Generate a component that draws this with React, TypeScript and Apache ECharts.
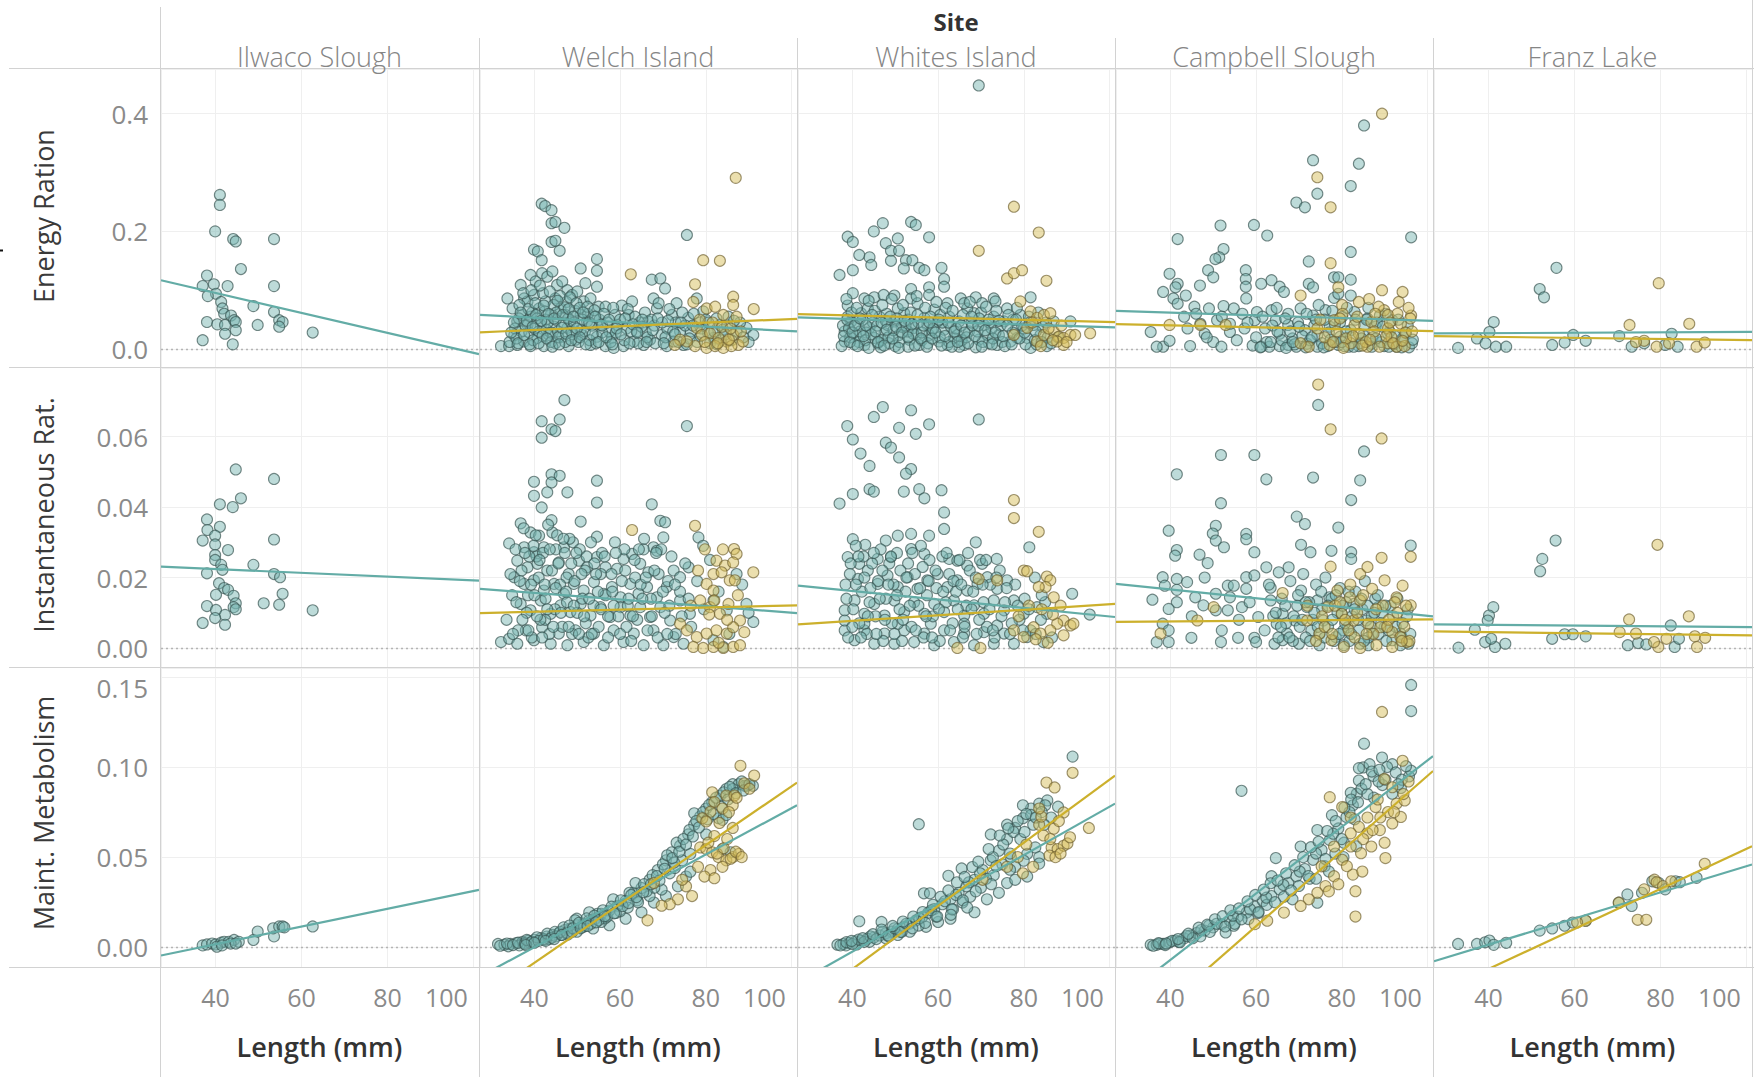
import React, { useEffect, useRef } from "react";
import * as echarts from "echarts";

// ---------- categories & ticks ----------
const SITES = ["Ilwaco Slough", "Welch Island", "Whites Island", "Campbell Slough", "Franz Lake"];
const MEASURES = ["Energy Ration", "Instantaneous Rat.", "Maint. Metabolism"];
const FACET_HEADER = "Site";
const X_TITLE = "Length (mm)";

const X_MIN = 27.3;
const X_MAX = 101.3;
const X_STEP = 20;
const X_TICKS = [40, 60, 80, 100];
const X_TICK_LABELS = ["40", "60", "80", "100"];

const Y_MIN = [-0.0305, -0.0054, -0.011];
const Y_MAX = [0.476, 0.0795, 0.155];
const Y_STEP = [0.2, 0.02, 0.05];
const Y_TICKS = [[0, 0.2, 0.4], [0, 0.02, 0.04, 0.06], [0, 0.05, 0.1, 0.15]];
const Y_TICK_LABELS = [["0.0", "0.2", "0.4"], ["0.00", "0.02", "0.04", "0.06"], ["0.00", "0.05", "0.10", "0.15"]];

// ---------- Energy Ration ----------
const ILWACO_ENERGY_TEAL = [[41.0,0.262],[41.0,0.245],[39.9,0.200],[44.1,0.187],[44.7,0.183],[53.6,0.187],[45.9,0.136],[38.0,0.125],[53.6,0.107],[37.0,0.107],[39.6,0.110],[42.8,0.107],[40.1,0.094],[38.2,0.090],[41.3,0.080],[41.6,0.069],[42.0,0.060],[43.6,0.057],[44.3,0.049],[44.7,0.046],[48.8,0.073],[53.6,0.063],[54.8,0.049],[55.6,0.046],[54.8,0.038],[38.0,0.046],[40.4,0.042],[42.2,0.041],[49.8,0.041],[44.7,0.032],[42.2,0.026],[62.6,0.028],[37.0,0.015],[44.0,0.008]];

const WELCH_ENERGY_TEAL = [[41.7,0.247],[42.5,0.243],[44.0,0.236],[44.0,0.214],[44.9,0.216],[47.0,0.206],[44.0,0.182],[44.9,0.184],[45.9,0.167],[39.9,0.169],[40.8,0.166],[41.7,0.151],[54.6,0.153],[50.8,0.137],[54.6,0.133],[54.6,0.106],[51.9,0.112],[75.6,0.194],
[33.7,0.086],[34.9,0.069],[36.8,0.109],[37.6,0.086],[39.1,0.126],[40.3,0.115],[41.8,0.129],[43.0,0.123],[44.2,0.132],[45.3,0.109],[46.5,0.115],[47.7,0.1],[48.8,0.092],[50.0,0.098],[51.5,0.081],[53.1,0.086],[55.0,0.072],[56.6,0.072],[36.0,0.047],[37.2,0.058],[38.4,0.081],[39.9,0.092],[41.1,0.069],[42.6,0.081],[43.8,0.058],[44.9,0.086],[46.1,0.069],[47.3,0.058],[48.4,0.047],[50.8,0.058],[52.3,0.047],[53.9,0.055],[55.4,0.041],
[32.2,0.005],[34.1,0.005],[36.0,0.007],[37.6,0.013],[39.1,0.005],[40.7,0.019],[42.2,0.005],[43.4,0.024],[44.9,0.010],[46.5,0.021],[48.0,0.005],[49.6,0.016],[51.1,0.024],[53.1,0.007],[54.6,0.021],[56.6,0.005],[58.1,0.019],[59.3,0.041],[60.4,0.074],[62.0,0.058],[62.8,0.081],[63.9,0.03],[65.5,0.007],[66.6,0.047],[67.4,0.118],[67.8,0.086],[68.6,0.069],[69.4,0.12],[69.7,0.024],[70.5,0.103],[70.9,0.005],[72.1,0.058],[73.2,0.078],[74.0,0.030],[74.8,0.007],[75.9,0.053],[77.9,0.086],[79.4,0.064],[81.8,0.019],[83.3,0.041],[85.3,0.055],[87.2,0.03],[89.5,0.036],[91.1,0.024],
[38.4,0.041],[41.5,0.041],[44.6,0.038],[47.7,0.036],[50.8,0.033],[58.5,0.002],[60.8,0.005],[63.2,0.013],[67.0,0.016],[72.5,0.013],[39.1,0.055],[42.6,0.05],[35.3,0.024],
[35.5,0.035],[37.0,0.03],[38.8,0.028],[40.0,0.035],[41.0,0.03],[42.8,0.033],[43.8,0.028],[45.5,0.03],[46.8,0.045],[48.9,0.025],[36.5,0.075],[39.5,0.062],[42.0,0.095],[45.0,0.05],[47.5,0.08],[49.5,0.065],[52.5,0.06],[57.5,0.03],[58.8,0.058],[61.5,0.035],[64.5,0.045],[66.0,0.028],[68.0,0.04],[71.0,0.035],[73.0,0.045],[76.5,0.03],[78.5,0.045],[80.5,0.028],[82.5,0.052],[84.0,0.033]];
const WELCH_ENERGY_TEAL_MORE = [[34.2,0.012],[35.8,0.018],[36.4,0.052],[37.4,0.095],[37.9,0.04],[38.6,0.068],[39.3,0.1],[39.7,0.015],[40.2,0.078],[40.6,0.052],[41.3,0.108],[41.9,0.022],[42.4,0.064],[43.1,0.045],[43.6,0.098],[43.9,0.012],[44.5,0.075],[45.1,0.062],[45.6,0.02],[46.0,0.09],[46.4,0.036],[47.0,0.071],[47.2,0.012],[47.9,0.052],[48.3,0.088],[48.7,0.03],[49.3,0.045],[49.8,0.078],[50.3,0.012],[50.6,0.07],[51.2,0.05],[51.8,0.03],[52.4,0.072],[52.9,0.015],[53.4,0.04],[54.0,0.066],[54.4,0.01],[55.2,0.05],[55.8,0.028],[56.2,0.06],[57.0,0.045],[57.8,0.012],[58.4,0.07],[59.0,0.028],[60.0,0.05],[61.0,0.015],[61.8,0.068],[62.6,0.03],[63.5,0.055],[64.2,0.01],[65.0,0.038],[65.8,0.062],[66.4,0.02],[67.3,0.05],[68.2,0.01],[69.0,0.078],[69.8,0.045],[70.6,0.02],[71.5,0.068],[72.4,0.03],[73.6,0.012],[74.5,0.062],[75.2,0.04],[76.2,0.018],[77.2,0.06],[78.0,0.012],[79.0,0.035],[80.0,0.05],[81.0,0.01],[82.0,0.03],[83.5,0.015],[85.0,0.04],[86.0,0.015],[88.0,0.045],[90.0,0.012],
[34.6,0.028],[35.2,0.045],[36.2,0.01],[36.8,0.062],[37.6,0.024],[38.2,0.048],[38.9,0.008],[39.6,0.038],[40.4,0.058],[41.0,0.01],[41.6,0.048],[42.2,0.074],[42.9,0.018],[43.3,0.06],[44.2,0.004],[44.6,0.052],[45.4,0.082],[45.8,0.008],[46.6,0.058],[47.4,0.026],[48.0,0.068],[48.6,0.015],[49.1,0.055],[49.9,0.035],[50.6,0.02],[51.4,0.062],[52.0,0.008],[52.8,0.045],[53.6,0.025],[54.2,0.055],[55.0,0.012],[55.8,0.04],[56.8,0.02],[57.4,0.05],[58.2,0.008],[59.2,0.035],[60.2,0.025],[61.2,0.052],[62.2,0.01],[63.0,0.042],[64.0,0.028],[65.2,0.05],[66.2,0.012],[67.6,0.032],[68.8,0.052],[70.2,0.01],[71.2,0.048],[72.8,0.025],[74.2,0.045],[75.6,0.008],[77.0,0.04],[78.8,0.022],[80.6,0.045],[82.6,0.008],[84.6,0.025],[86.6,0.048],[88.8,0.02]];
const WELCH_ENERGY_GOLD = [[87.0,0.291],[62.5,0.127],[79.4,0.151],[83.3,0.150],[77.5,0.110],[86.4,0.089],[91.2,0.068],[77.1,0.08],[80.2,0.069],[82.2,0.072],[84.1,0.058],[86.4,0.075],[87.2,0.055],[77.9,0.036],[79.1,0.024],[81.0,0.027],[83.0,0.019],[84.9,0.013],[86.4,0.024],[87.6,0.007],[77.5,0.005],[80.2,0.002],[82.2,0.005],[84.1,0.002],[86.0,0.005],[75.6,0.013],[74.0,0.016],[88.7,0.013],[72.8,0.007],
[78.6,0.05],[81.6,0.045],[83.8,0.038],[85.8,0.035],[88.2,0.03],[79.8,0.012],[82.8,0.01],[85.4,0.016]];

const WHITES_ENERGY_TEAL = [[69.5,0.448],[38.9,0.191],[40.1,0.182],[45.0,0.2],[47.1,0.214],[53.7,0.216],[54.8,0.211],[57.9,0.19],[47.8,0.18],[50.6,0.188],[49.0,0.167],[50.9,0.167],[41.6,0.16],[44.0,0.156],[44.4,0.143],[49.0,0.15],[52.5,0.151],[54.0,0.151],[52.0,0.137],[55.6,0.138],[56.8,0.134],[37.0,0.126],[40.1,0.134],[60.8,0.138],[61.4,0.119],[61.4,0.106],
[40.1,0.095],[42.8,0.086],[45.1,0.088],[47.3,0.092],[49.8,0.091],[53.7,0.102],[57.9,0.105],[53.7,0.086],[57.9,0.092],[38.9,0.074],[62.2,0.078],[65.3,0.086],[68.8,0.088],[73.0,0.086],[73.4,0.081],[81.6,0.088],
[38.2,0.03],[38.2,0.013],[39.7,0.047],[40.9,0.024],[42.0,0.061],[42.8,0.007],[44.0,0.036],[45.1,0.019],[46.3,0.055],[47.5,0.027],[48.6,0.01],[49.8,0.047],[50.9,0.024],[52.1,0.061],[53.3,0.016],[54.4,0.036],[55.6,0.007],[56.8,0.053],[57.9,0.024],[59.1,0.067],[60.2,0.013],[61.4,0.033],[62.6,0.055],[63.7,0.019],[64.9,0.047],[66.1,0.007],[67.2,0.030],[68.4,0.061],[69.5,0.016],[70.7,0.041],[71.9,0.01],[73.0,0.055],[74.2,0.024],[75.4,0.047],[76.9,0.013],[78.1,0.033],[79.2,0.058],[80.8,0.019],[82.3,0.041],[83.9,0.024],
[38.9,0.055],[41.3,0.041],[43.6,0.069],[45.9,0.01],[48.2,0.041],[50.6,0.069],[52.9,0.03],[55.2,0.078],[57.5,0.041],[59.9,0.047],[62.2,0.007],[64.5,0.024],[66.8,0.069],[69.2,0.03],[71.5,0.024],[73.8,0.007],[76.1,0.069],[78.5,0.019],[81.6,0.002],[85.4,0.005],[87.0,0.047],[90.9,0.047],[66.1,0.078],[70.3,0.078],
[39.5,0.02],[41.5,0.012],[43.2,0.028],[44.8,0.045],[46.8,0.015],[48.0,0.06],[50.0,0.005],[51.5,0.038],[53.0,0.05],[55.0,0.025],[56.2,0.015],[58.5,0.032],[60.5,0.058],[63.0,0.038],[65.5,0.015],[67.8,0.045],[70.0,0.062],[72.5,0.035],[75.0,0.012],[77.5,0.05],[80.0,0.035],[83.0,0.008]];
const WHITES_ENERGY_TEAL_MORE = [[37.5,0.005],[37.8,0.04],[38.6,0.085],[39.2,0.035],[39.8,0.062],[40.4,0.008],[41.0,0.07],[41.8,0.03],[42.4,0.05],[43.0,0.015],[43.8,0.082],[44.4,0.025],[45.2,0.065],[45.8,0.04],[46.6,0.003],[47.0,0.075],[47.8,0.048],[48.4,0.02],[49.2,0.085],[49.6,0.032],[50.4,0.052],[51.0,0.012],[51.8,0.075],[52.4,0.04],[53.0,0.004],[53.6,0.062],[54.2,0.026],[55.0,0.09],[55.4,0.045],[56.2,0.028],[57.0,0.07],[57.6,0.01],[58.2,0.055],[58.8,0.035],[59.6,0.08],[60.4,0.02],[61.0,0.045],[61.8,0.07],[62.6,0.012],[63.4,0.065],[64.2,0.035],[65.0,0.004],[65.8,0.058],[66.6,0.02],[67.4,0.08],[68.0,0.04],[68.8,0.003],[69.6,0.052],[70.4,0.012],[71.2,0.072],[72.0,0.045],[72.8,0.018],[73.6,0.065],[74.6,0.04],[75.6,0.005],[76.4,0.058],[77.4,0.028],[78.4,0.07],[79.6,0.04],[80.4,0.008],[81.2,0.055],[82.6,0.015],[83.4,0.062],[84.4,0.038],[85.6,0.02],[86.4,0.01],[88.0,0.02],
[38.0,0.022],[38.8,0.05],[39.4,0.012],[40.0,0.028],[40.6,0.04],[41.2,0.005],[41.8,0.052],[42.6,0.022],[43.2,0.04],[43.8,0.002],[44.6,0.058],[45.4,0.03],[46.0,0.012],[46.8,0.045],[47.4,0.006],[48.0,0.033],[48.8,0.055],[49.4,0.018],[50.2,0.038],[50.8,0.002],[51.6,0.028],[52.2,0.048],[53.0,0.02],[53.8,0.042],[54.6,0.006],[55.2,0.058],[56.0,0.018],[56.6,0.04],[57.4,0.004],[58.0,0.045],[58.6,0.018],[59.4,0.028],[60.2,0.05],[60.8,0.006],[61.6,0.022],[62.4,0.045],[63.2,0.004],[63.8,0.03],[64.6,0.012],[65.4,0.04],[66.2,0.028],[67.0,0.01],[67.8,0.055],[68.6,0.022],[69.4,0.04],[70.2,0.004],[71.0,0.032],[71.8,0.05],[72.6,0.008],[73.4,0.028],[74.2,0.048],[75.2,0.022],[76.2,0.04],[77.2,0.008],[78.2,0.05],[79.0,0.018],[80.2,0.028],[81.4,0.045],[82.8,0.03],[84.2,0.012],[85.2,0.045]];
const WHITES_ENERGY_GOLD = [[77.7,0.242],[83.5,0.198],[69.5,0.167],[76.1,0.12],[77.7,0.129],[79.6,0.134],[85.3,0.116],[79.2,0.081],[81.6,0.064],[83.1,0.053],[84.7,0.058],[86.2,0.061],[87.0,0.03],[88.2,0.021],[89.3,0.019],[90.9,0.024],[92.0,0.024],[95.5,0.027],[89.3,0.007],[87.8,0.013],[77.7,0.024],[80.8,0.036],[83.1,0.013],[84.7,0.024],
[82.0,0.045],[85.8,0.035],[88.8,0.04],[84.0,0.005],[90.0,0.012],[86.8,0.015]];

const CAMPBELL_ENERGY_TEAL = [[73.3,0.321],[85.2,0.380],[84.0,0.315],[74.3,0.264],[82.1,0.277],[69.4,0.249],[71.4,0.241],[51.7,0.21],[59.5,0.211],[62.6,0.193],[41.7,0.187],[96.2,0.19],[82.1,0.165],[52.4,0.17],[51.4,0.156],[50.5,0.153],[48.8,0.134],[50.0,0.122],[39.8,0.128],[41.7,0.111],[41.2,0.105],[38.3,0.097],[40.7,0.086],[41.7,0.077],[43.6,0.091],[46.9,0.108],[57.6,0.134],[57.6,0.119],[57.6,0.106],[57.7,0.086],[61.2,0.111],[63.6,0.117],[65.5,0.106],[66.5,0.097],[72.3,0.149],[72.3,0.111],[73.3,0.105],[78.2,0.122],[79.2,0.122],[82.1,0.118],
[35.4,0.029],[38.3,0.004],[36.8,0.004],[39.8,0.014],[44.6,0.005],[48.0,0.026],[50.0,0.012],[51.9,0.004],[53.9,0.029],
[45.6,0.072],[49.0,0.069],[52.4,0.073],[54.8,0.069],[56.8,0.06],[60.2,0.063],[63.6,0.066],
[43.2,0.055],[47.0,0.043],[50.9,0.049],[53.9,0.043],[57.3,0.035],[59.7,0.049],[62.1,0.035],[64.6,0.049],[67.5,0.041],
[59.2,0.006],[61.2,0.004],[63.1,0.004],[65.5,0.005],[67.5,0.007],[69.4,0.004],[71.9,0.009],[74.3,0.004],[76.7,0.005],[79.2,0.007],[81.6,0.004],[84.0,0.005],[86.9,0.009],[89.9,0.005],[92.8,0.004],[95.7,0.003],
[65.5,0.026],[68.5,0.018],[71.4,0.032],[74.3,0.024],[77.2,0.038],[79.6,0.021],[82.1,0.032],[85.0,0.024],[87.9,0.038],[90.8,0.026],[93.8,0.015],
[67.5,0.06],[70.4,0.069],[73.3,0.057],[76.2,0.066],[80.1,0.055],[83.0,0.063],[86.0,0.052],[88.9,0.057],[91.8,0.049],
[78.2,0.087],[79.2,0.094],[82.1,0.091]];
const CAMPBELL_ENERGY_TEAL_MORE = [[60.0,0.02],[61.5,0.055],[62.5,0.012],[63.8,0.04],[64.8,0.07],[66.0,0.015],[66.8,0.052],[68.0,0.03],[69.0,0.008],[69.8,0.045],[70.8,0.022],[71.8,0.06],[72.6,0.015],[73.6,0.04],[74.6,0.075],[75.4,0.01],[76.0,0.05],[77.0,0.028],[77.8,0.065],[78.6,0.012],[79.6,0.045],[80.6,0.005],[81.2,0.07],[82.2,0.02],[83.2,0.05],[84.2,0.01],[85.2,0.04],[86.2,0.07],[87.2,0.02],[88.2,0.045],[89.2,0.012],[90.2,0.06],[91.2,0.03],[92.2,0.008],[93.2,0.05],[94.4,0.02],[95.4,0.04],[96.4,0.01],[44.0,0.035],[46.0,0.06],[48.5,0.02],[52.0,0.055],[55.5,0.015],[58.0,0.045],
[61.0,0.003],[63.4,0.012],[65.0,0.03],[67.0,0.002],[68.6,0.012],[70.0,0.038],[71.6,0.003],[73.0,0.02],[74.0,0.05],[75.8,0.003],[77.4,0.016],[78.4,0.042],[80.0,0.012],[81.0,0.03],[82.8,0.004],[84.6,0.018],[85.8,0.05],[87.0,0.004],[88.0,0.018],[89.6,0.038],[91.0,0.004],[92.4,0.022],[94.0,0.003],[95.0,0.028],[96.6,0.016]];
const CAMPBELL_ENERGY_GOLD = [[89.4,0.40],[74.3,0.292],[77.4,0.241],[77.4,0.146],[70.4,0.091],[79.2,0.105],[89.4,0.1],[94.2,0.097],[93.3,0.08],[96.2,0.057],[96.0,0.052],[84.0,0.08],[80.1,0.075],[89.9,0.066],[90.8,0.058],[78.2,0.049],[83.0,0.041],[86.9,0.046],[90.8,0.035],[93.8,0.043],[74.3,0.035],[84.0,0.026],[77.2,0.007],[82.1,0.01],[86.0,0.004],[90.8,0.01],[92.8,0.004],[94.7,0.005],[72.3,0.004],[70.4,0.01],[39.8,0.041],[47.0,0.041],[52.9,0.041],
[76.0,0.02],[78.8,0.03],[81.0,0.018],[83.6,0.055],[85.6,0.012],[87.6,0.03],[88.6,0.072],[91.6,0.02],[93.0,0.06],[94.8,0.028],[95.6,0.07],[80.2,0.06],[86.4,0.085],[75.0,0.05],
[78.0,0.012],[80.4,0.002],[82.6,0.022],[84.8,0.006],[86.6,0.016],[88.8,0.004],[90.4,0.022],[92.0,0.01],[94.2,0.014],[96.4,0.03],[79.6,0.052],[87.8,0.06],[91.2,0.045]];

const FRANZ_ENERGY_TEAL = [[55.8,0.138],[51.9,0.102],[52.9,0.088],[41.2,0.046],[40.2,0.029],[37.3,0.018],[39.3,0.01],[41.7,0.004],[44.1,0.004],[32.9,0.002],[54.8,0.007],[57.7,0.011],[59.7,0.024],[62.6,0.014],[70.4,0.022],[82.6,0.026],[73.3,0.004],[76.2,0.01],[84.0,0.004],[81.1,0.007]];
const FRANZ_ENERGY_GOLD = [[79.6,0.112],[72.8,0.041],[86.7,0.043],[76.2,0.014],[79.1,0.004],[88.4,0.004],[90.3,0.011],[82.0,0.01],[74.3,0.012]];

// ---------- Instantaneous Rat. ----------
const ILWACO_INST_TEAL = [[44.7,0.0507],[53.6,0.048],[41.0,0.0408],[44.0,0.040],[45.9,0.0425],[38.0,0.0365],[38.1,0.0335],[41.0,0.0344],[37.0,0.0305],[39.9,0.0319],[39.9,0.0294],[42.9,0.0278],[39.9,0.0264],[39.9,0.025],[53.6,0.0308],[41.3,0.0236],[41.6,0.0222],[38.0,0.0212],[48.8,0.0236],[53.6,0.021],[55.0,0.0201],[40.8,0.0184],[42.0,0.017],[42.9,0.0165],[40.1,0.0151],[44.2,0.0148],[44.7,0.0127],[44.2,0.0116],[38.0,0.0119],[40.1,0.0108],[42.2,0.0094],[44.7,0.011],[51.2,0.0127],[55.6,0.0154],[54.8,0.0123],[62.6,0.0107],[39.9,0.0085],[37.0,0.0071],[42.2,0.0066]];

const WELCH_INST_TEAL = [[47.0,0.0704],[41.7,0.0644],[45.9,0.0649],[44.0,0.0621],[44.9,0.0616],[41.7,0.0597],[75.6,0.063],
[44.0,0.0493],[45.9,0.0489],[44.0,0.047],[39.9,0.0472],[43.0,0.0442],[47.7,0.0442],[54.6,0.0475],[39.9,0.0432],[41.7,0.0399],[54.6,0.0413],[67.4,0.0408],
[36.8,0.0354],[44.0,0.0363],[50.8,0.0359],[54.6,0.0316],[69.4,0.0361],[70.5,0.0357],[34.1,0.0297],[70.1,0.0314],[67.8,0.0286],[68.6,0.0276],[78.3,0.0314],[79.4,0.029],
[39.1,0.0328],[41.1,0.0319],[37.6,0.0286],[39.9,0.0272],[42.2,0.0286],[44.2,0.0328],[46.9,0.0286],[36.0,0.0248],[38.4,0.0229],[40.7,0.0239],[43.0,0.022],[45.7,0.0243],[48.0,0.021],[50.4,0.0248],[52.3,0.0229],[54.6,0.0258],[56.6,0.0229],[59.3,0.0225],[60.8,0.0253],[62.8,0.0267],[64.7,0.0239],[66.6,0.0215],
[35.3,0.0201],[37.6,0.0182],[39.9,0.0192],[42.2,0.0163],[44.6,0.0182],[46.9,0.0154],[49.2,0.0182],[51.5,0.0163],[53.9,0.0187],[56.2,0.0154],[58.1,0.0173],[60.1,0.0144],[62.4,0.0182],[64.3,0.0154],[66.3,0.0173],[68.6,0.0144],[70.9,0.0173],[72.5,0.022],[74.0,0.0201],[76.0,0.0229],
[36.8,0.0125],[39.1,0.0107],[41.5,0.0135],[43.8,0.0097],[46.1,0.0121],[48.4,0.0102],[50.8,0.0125],[53.1,0.0092],[55.4,0.0116],[57.7,0.0088],[60.1,0.0116],[62.4,0.0092],[64.7,0.0116],[67.0,0.0088],[69.4,0.0116],[71.7,0.0078],[74.0,0.0135],[76.3,0.0097],[81.8,0.0135],[84.9,0.0107],[87.2,0.021],[89.5,0.0125],[91.1,0.0074],
[32.2,0.0017],[34.1,0.0026],[36.0,0.0012],[38.0,0.005],[39.9,0.0022],[41.8,0.0059],[43.8,0.0012],[45.7,0.0041],[47.7,0.0008],[49.6,0.005],[51.5,0.0017],[53.9,0.0041],[56.2,0.0008],[58.5,0.005],[60.8,0.0017],[63.2,0.0041],[65.5,0.0008],[67.8,0.005],[70.1,0.0008],[72.5,0.0031],[74.8,0.0012],[81.8,0.0022],[84.1,0.0003],
[38.5,0.015],[40.5,0.026],[42.5,0.008],[45.0,0.028],[47.5,0.02],[49.0,0.03],[52.0,0.007],[55.5,0.021],[58.5,0.012],[61.5,0.006],[63.5,0.02],[65.5,0.028],[69.0,0.021],[71.5,0.012]];
const WELCH_INST_TEAL_MORE = [[33.5,0.008],[34.8,0.015],[35.6,0.028],[36.2,0.005],[37.0,0.022],[37.5,0.034],[38.2,0.01],[38.8,0.026],[39.4,0.003],[40.0,0.015],[40.3,0.032],[41.0,0.02],[41.4,0.008],[42.0,0.027],[42.6,0.014],[43.2,0.035],[43.5,0.004],[44.1,0.022],[44.8,0.011],[45.3,0.032],[46.0,0.018],[46.5,0.006],[47.1,0.027],[47.6,0.013],[48.2,0.031],[48.8,0.004],[49.4,0.019],[50.0,0.01],[50.6,0.028],[51.2,0.014],[51.8,0.022],[52.6,0.003],[53.2,0.03],[53.8,0.012],[54.4,0.021],[55.0,0.006],[55.8,0.027],[56.6,0.015],[57.2,0.003],[58.0,0.021],[58.8,0.03],[59.6,0.009],[60.4,0.019],[61.0,0.028],[61.8,0.012],[62.6,0.002],[63.4,0.025],[64.0,0.008],[64.8,0.018],[65.6,0.031],[66.4,0.005],[67.2,0.014],[68.0,0.022],[68.8,0.003],[69.6,0.028],[70.4,0.01],[71.2,0.019],[72.0,0.026],[73.0,0.004],[74.0,0.016],[75.2,0.024],[76.6,0.006],[78.0,0.019],[79.6,0.011],[81.0,0.025],[83.0,0.016],[85.5,0.004],[88.5,0.018],[90.0,0.01],
[34.4,0.021],[35.0,0.004],[35.8,0.013],[36.6,0.019],[37.2,0.008],[37.8,0.027],[38.6,0.005],[39.2,0.018],[39.8,0.029],[40.6,0.009],[41.2,0.025],[41.8,0.003],[42.4,0.018],[43.0,0.011],[43.6,0.028],[44.4,0.006],[45.0,0.017],[45.6,0.024],[46.2,0.01],[46.8,0.031],[47.4,0.016],[48.0,0.006],[48.6,0.024],[49.2,0.012],[49.8,0.027],[50.4,0.004],[51.0,0.021],[51.6,0.009],[52.2,0.026],[52.8,0.014],[53.4,0.004],[54.0,0.024],[54.8,0.016],[55.6,0.011],[56.4,0.026],[57.2,0.009],[58.2,0.016],[59.0,0.027],[60.0,0.004],[61.2,0.022],[62.0,0.014],[63.0,0.009],[64.4,0.028],[65.2,0.014],[66.0,0.02],[67.4,0.009],[68.4,0.027],[70.0,0.016],[71.0,0.004],[72.8,0.018],[74.4,0.009],[76.0,0.014]];
const WELCH_INST_GOLD = [[62.8,0.0335],[77.5,0.0347],[86.6,0.0281],[87.2,0.0267],[91.1,0.0215],[82.5,0.0248],[84.5,0.0234],[86.4,0.0243],[81.8,0.021],[83.7,0.0215],[85.6,0.0192],[80.2,0.0182],[81.8,0.0163],[86.8,0.0192],[78.7,0.0135],[81.0,0.0116],[83.3,0.0097],[85.3,0.0125],[88.0,0.0078],[74.0,0.0069],[75.6,0.005],[77.9,0.0031],[80.2,0.0041],[82.5,0.005],[84.9,0.0041],[86.4,0.0059],[77.1,0.0003],[79.4,0],[81.8,0.0003],[84.1,0],[86.4,0.0003],[88.0,0.0008],
[76.5,0.012],[78.2,0.022],[79.8,0.028],[82.0,0.0135],[84.0,0.028],[85.0,0.008],[87.5,0.015],[89.0,0.0045],[83.0,0.0015],[80.8,0.0095]];

const WHITES_INST_TEAL = [[47.1,0.0684],[53.7,0.0675],[45.0,0.0656],[38.8,0.063],[50.9,0.0625],[57.9,0.0635],[69.5,0.0649],[54.8,0.0608],[40.1,0.0592],[47.8,0.0583],[49.0,0.0569],[41.9,0.0552],[50.9,0.0541],[44.0,0.0517],[53.7,0.0508],[52.5,0.0495],[40.1,0.0437],[44.0,0.0451],[45.0,0.0444],[37.0,0.041],[52.0,0.0444],[55.6,0.0451],[56.8,0.0425],[60.8,0.0448],[61.4,0.0385],[61.4,0.0338],[81.3,0.0286],[68.8,0.03],[91.3,0.0154],[95.4,0.0095],
[40.1,0.0309],[43.0,0.0293],[47.8,0.0305],[50.6,0.0319],[53.7,0.0324],[57.9,0.0319],[38.9,0.0258],[41.6,0.0239],[45.9,0.0253],[49.0,0.0258],[53.7,0.0281],[56.8,0.0267],[62.6,0.0253],[64.5,0.0248],[66.8,0.0234],[70.3,0.0239],[73.7,0.0253],
[41.3,0.0196],[43.6,0.022],[45.9,0.0182],[48.2,0.0206],[50.6,0.0173],[52.9,0.0201],[55.2,0.0168],[57.5,0.0192],[59.9,0.021],[62.2,0.0173],[64.5,0.0192],[66.8,0.0163],[69.2,0.0182],[71.5,0.0201],[73.8,0.0168],[76.1,0.0192],
[38.2,0.0107],[40.5,0.0135],[42.8,0.0097],[45.1,0.0125],[47.5,0.0092],[49.8,0.0135],[52.1,0.0102],[54.4,0.013],[56.8,0.0097],[59.1,0.0125],[61.4,0.0102],[63.7,0.0135],[66.1,0.0092],[68.4,0.0121],[70.7,0.0097],[73.0,0.0135],[75.4,0.0107],[77.7,0.0135],[80.0,0.0097],[83.1,0.0116],[85.4,0.0097],
[38.2,0.005],[40.5,0.0022],[42.8,0.005],[45.1,0.0012],[47.5,0.0041],[49.8,0.0012],[52.1,0.005],[54.4,0.0017],[56.8,0.0041],[59.1,0.0008],[61.4,0.005],[63.7,0.0017],[66.1,0.0041],[68.4,0.0008],[70.7,0.0045],[73.0,0.0012],[75.4,0.0041],[77.7,0.0012],[80.8,0.0031],[84.6,0.0017],[38.2,0.0078],[42.8,0.0069],[50.6,0.0069],[58.3,0.0069],[66.1,0.0069],[73.8,0.0064]];
const WHITES_INST_TEAL_MORE = [[38.4,0.018],[39.0,0.003],[39.6,0.024],[40.2,0.011],[40.8,0.029],[41.6,0.007],[42.2,0.016],[42.6,0.026],[43.4,0.004],[44.0,0.013],[44.6,0.024],[45.4,0.009],[46.0,0.019],[46.6,0.028],[47.2,0.002],[47.8,0.014],[48.6,0.024],[49.2,0.007],[49.6,0.018],[50.4,0.027],[51.0,0.011],[51.6,0.002],[52.4,0.016],[53.0,0.024],[53.8,0.006],[54.6,0.021],[55.4,0.012],[56.0,0.029],[56.6,0.003],[57.4,0.015],[58.0,0.025],[58.8,0.009],[59.6,0.017],[60.4,0.002],[61.0,0.026],[61.8,0.013],[62.6,0.021],[63.4,0.007],[64.2,0.016],[65.0,0.025],[65.8,0.003],[66.6,0.012],[67.4,0.022],[68.2,0.016],[69.0,0.004],[69.8,0.025],[70.6,0.013],[71.4,0.006],[72.2,0.018],[73.2,0.003],[74.4,0.022],[75.6,0.013],[76.8,0.004],[78.0,0.018],[79.0,0.008],[80.2,0.014],[81.6,0.005],[82.6,0.02],[84.0,0.008],[85.0,0.013],[86.6,0.003],
[38.6,0.014],[39.4,0.021],[40.0,0.006],[40.8,0.018],[41.4,0.026],[42.0,0.003],[42.8,0.02],[43.6,0.009],[44.2,0.017],[45.0,0.027],[45.6,0.004],[46.4,0.014],[47.0,0.022],[47.6,0.008],[48.4,0.018],[49.0,0.026],[49.8,0.004],[50.4,0.015],[51.2,0.022],[51.8,0.008],[52.6,0.02],[53.4,0.012],[54.0,0.027],[54.8,0.005],[55.8,0.017],[56.4,0.023],[57.2,0.009],[57.8,0.019],[58.6,0.003],[59.4,0.022],[60.2,0.011],[61.2,0.016],[62.0,0.027],[62.8,0.005],[63.6,0.019],[64.6,0.011],[65.4,0.018],[66.2,0.006],[67.0,0.027],[67.8,0.011],[68.8,0.02],[69.6,0.008],[70.4,0.018],[71.2,0.025],[72.0,0.011],[72.8,0.005],[73.6,0.02],[74.8,0.009],[76.0,0.017],[77.2,0.007],[78.6,0.012],[79.8,0.005],[81.2,0.011],[82.8,0.004],[84.2,0.015]];
const WHITES_INST_GOLD = [[77.7,0.042],[77.7,0.0369],[83.5,0.033],[80.0,0.022],[80.8,0.0218],[85.4,0.0203],[86.2,0.0192],[85.1,0.0173],[83.5,0.0173],[69.5,0.0196],[73.8,0.0192],[87.0,0.0144],[89.3,0.0078],[90.9,0.0064],[91.6,0.0069],[87.8,0.0069],[86.2,0.005],[89.3,0.0036],[80.0,0.0031],[82.3,0.0059],[83.9,0.0041],[77.7,0.005],[64.5,0],[69.9,0],
[78.8,0.009],[81.2,0.012],[84.2,0.011],[86.8,0.0095],[88.6,0.012],[82.8,0.0025],[85.6,0.0015]];

const CAMPBELL_INST_TEAL = [[74.5,0.069],[51.8,0.0548],[59.6,0.0548],[41.5,0.0493],[62.4,0.0479],[73.3,0.0484],[84.3,0.0476],[85.2,0.0558],[82.2,0.042],[51.8,0.0411],[69.5,0.0373],[71.4,0.0352],[39.6,0.0333],[50.6,0.0347],[49.9,0.0325],[50.6,0.0305],[52.5,0.0286],[57.7,0.0324],[57.7,0.0309],[59.6,0.0272],[79.2,0.0342],[41.5,0.0278],[41.1,0.0262],[46.8,0.0265],[48.7,0.0241],[70.5,0.0293],[72.7,0.0272],[77.6,0.0276],[82.2,0.0272],[82.2,0.0253],[96.1,0.0291],
[62.4,0.0229],[65.3,0.0215],[67.6,0.0229],[57.7,0.0201],[59.6,0.0206],[63.4,0.0171],
[38.2,0.0201],[41.5,0.0196],[43.9,0.0187],[38.7,0.0177],[41.5,0.0165],[35.8,0.0137],[41.5,0.013],[39.6,0.0111],[45.8,0.0144],[47.7,0.0121],[50.6,0.0154],[53.4,0.0177],[54.8,0.0177],[57.7,0.0168],[53.9,0.0144],[56.7,0.0116],[53.4,0.0107],[50.6,0.0107],
[38.2,0.0069],[39.6,0.005],[36.8,0.0017],[39.6,0.0017],[44.9,0.0029],[51.8,0.0017],[55.8,0.0029],[59.6,0.0029],[60.0,0.0017],
[60.5,0.0088],[63.4,0.0135],[64.8,0.0069],[66.2,0.0097],[67.2,0.0041],[69.1,0.0078],[70.5,0.0163],[71.9,0.0116],[72.9,0.005],[74.3,0.0135],[75.7,0.0078],[77.1,0.0144],[78.6,0.0031],[80.0,0.0097],[81.4,0.0059],[82.8,0.0125],[84.3,0.0012],[85.7,0.0078],[87.1,0.0041],[88.5,0.0116],[90.0,0.0059],[91.8,0.0022],[93.7,0.0041],[95.6,0.0012],[64.3,0.0012],[66.2,0.0022],[70.0,0.0012],[74.8,0.0008],[80.5,0.0008],[86.2,0.0008],[93.7,0.0008]];
const CAMPBELL_INST_TEAL_MORE = [[62.0,0.005],[63.0,0.018],[64.0,0.009],[65.2,0.003],[66.0,0.014],[67.0,0.007],[68.0,0.019],[68.6,0.002],[69.6,0.012],[70.2,0.006],[71.0,0.021],[71.6,0.003],[72.4,0.013],[73.2,0.008],[74.0,0.018],[74.8,0.004],[75.4,0.011],[76.2,0.02],[76.8,0.006],[77.6,0.014],[78.2,0.002],[79.0,0.01],[79.6,0.017],[80.4,0.005],[81.0,0.013],[81.8,0.002],[82.4,0.009],[83.2,0.016],[84.0,0.005],[84.8,0.011],[85.4,0.019],[86.2,0.003],[87.0,0.009],[87.8,0.014],[88.6,0.004],[89.4,0.01],[90.4,0.002],[91.4,0.012],[92.6,0.006],[94.0,0.003],[95.2,0.009],[96.0,0.004],[45.0,0.009],[48.0,0.02],[52.0,0.005],[56.0,0.008],[58.5,0.013],
[64.6,0.01],[65.8,0.006],[66.8,0.012],[67.8,0.003],[68.8,0.009],[69.8,0.015],[70.8,0.008],[71.6,0.013],[72.6,0.002],[73.6,0.01],[74.4,0.006],[75.2,0.016],[76.0,0.003],[76.8,0.012],[77.8,0.008],[78.6,0.015],[79.4,0.004],[80.2,0.012],[80.8,0.007],[81.6,0.016],[82.2,0.004],[83.0,0.011],[83.8,0.008],[84.6,0.014],[85.2,0.002],[86.0,0.012],[86.8,0.006],[87.6,0.01],[88.4,0.015],[89.2,0.007],[90.2,0.012],[91.0,0.005],[92.0,0.009],[93.0,0.014],[94.2,0.007],[95.4,0.011]];
const CAMPBELL_INST_GOLD = [[74.5,0.0748],[77.4,0.0621],[89.3,0.0595],[89.3,0.0256],[96.1,0.0259],[77.4,0.0231],[84.3,0.021],[87.1,0.0168],[90.0,0.0192],[94.2,0.0177],[92.8,0.0144],[96.1,0.0121],[66.2,0.0156],[79.0,0.0163],[81.9,0.0144],[84.3,0.0135],[76.7,0.0116],[80.0,0.0097],[82.8,0.0078],[86.2,0.0069],[89.0,0.0059],[91.8,0.0045],[93.7,0.0031],[95.2,0.0017],[71.9,0.0078],[74.8,0.0041],[77.6,0.0022],[80.5,0.0003],[84.3,0],[88.1,0.0008],[91.8,0.0003],[50.1,0.0116],[37.7,0.0041],[46.3,0.0078],
[72.0,0.012],[74.0,0.002],[76.0,0.006],[78.4,0.012],[80.8,0.008],[83.0,0.003],[85.0,0.015],[87.4,0.004],[89.6,0.012],[91.0,0.008],[93.0,0.01],[94.6,0.006],[95.8,0.002],[82.0,0.018],[86.0,0.023],
[75.4,0.009],[77.8,0.004],[79.6,0.013],[81.6,0.005],[83.6,0.01],[85.8,0.004],[88.0,0.011],[90.6,0.006],[92.4,0.013],[94.0,0.002],[95.0,0.012]];

const FRANZ_INST_TEAL = [[55.6,0.0305],[52.5,0.0253],[52.0,0.0218],[41.1,0.0116],[40.1,0.0092],[39.8,0.0078],[36.8,0.0052],[33.0,0.0001],[39.2,0.0017],[41.5,0.0003],[43.9,0.0012],[40.6,0.0026],[54.8,0.0026],[57.7,0.0039],[59.6,0.0039],[62.6,0.0033],[82.4,0.0064],[72.4,0.0008],[74.8,0.0014],[76.7,0.001],[83.3,0.0003],[84.3,0.0026]];
const FRANZ_INST_GOLD = [[79.3,0.0293],[72.7,0.0081],[86.6,0.009],[70.5,0.0045],[74.3,0.0041],[79.5,0.0003],[88.0,0.0033],[90.4,0.0029],[88.5,0.0003],[81.4,0.0026],[78.5,0.0017]];

// ---------- Maint. Metabolism ----------
const ILWACO_MAINT_TEAL = [[37.0,0.001],[38.0,0.0015],[39.2,0.002],[40.0,0.0015],[41.3,0.0025],[42.0,0.003],[43.1,0.003],[44.3,0.004],[45.4,0.003],[40.3,0.0003],[41.5,0.001],[43.5,0.002],[44.7,0.002],[48.8,0.004],[49.8,0.0087],[53.6,0.006],[53.4,0.0105],[54.8,0.0115],[55.6,0.0115],[56.0,0.011],[62.6,0.0115]];

const WELCH_MAINT_TEAL = [[31.5,0.0018],[33.0,0.0014],[34.4,0.0018],[35.8,0.0023],[37.2,0.0029],[38.6,0.0036],[40.0,0.0041],[41.5,0.005],[42.9,0.0059],[44.3,0.0068],[45.7,0.0077],[47.1,0.0095],[48.5,0.0104],[49.9,0.0122],[51.4,0.0131],[52.8,0.0149],[54.2,0.0158],[55.6,0.0185],[57.5,0.0203],[59.4,0.023],[61.3,0.0257],[63.2,0.0302],[65.0,0.0329],[66.9,0.0374],[68.8,0.0428],[70.7,0.0482],[72.1,0.0527],[74.0,0.0563],[75.9,0.0626],[77.3,0.068],[78.7,0.0725],[80.1,0.077],[81.5,0.0806],[83.4,0.0842],[84.8,0.0878],[86.3,0.0905],[87.7,0.0905],[89.6,0.0896],[91.0,0.0896],
[49.9,0.0086],[53.7,0.0104],[57.5,0.0122],[61.3,0.0158],[65.0,0.0194],[67.9,0.0248],[70.7,0.0284],[73.5,0.0338],[75.4,0.0392],[76.4,0.0419],[74.5,0.0482],[49.9,0.0158],[54.7,0.0185],[58.4,0.0266],[62.2,0.0302],[63.6,0.0356],[66.9,0.0284],[69.7,0.032],[71.6,0.041],[76.4,0.0518],[77.3,0.0743],[80.1,0.0626],[83.0,0.0716],[83.9,0.0707],[84.8,0.0734],[86.3,0.0878],[89.1,0.0896],[85.8,0.0527],[83.9,0.0545],[46.2,0.0068],[42.4,0.0041],[37.7,0.0023],[33.9,0.0005],[49.5,0.0149],[52.8,0.0194],[55.6,0.014],
[36.5,0.001],[39.0,0.0025],[43.5,0.0045],[45.0,0.006],[47.8,0.007],[51.0,0.011],[56.5,0.016],[60.0,0.02],[64.0,0.026],[68.0,0.033],[72.8,0.044]];
const WELCH_MAINT_TEAL_MORE = [[32.0,0.0008],[33.6,0.002],[35.0,0.0012],[36.2,0.0025],[37.8,0.0018],[38.2,0.004],[39.4,0.003],[40.6,0.0055],[41.0,0.0035],[42.2,0.0045],[43.0,0.0075],[44.0,0.0052],[44.8,0.0085],[46.0,0.0085],[46.8,0.011],[47.6,0.008],[48.2,0.012],[49.0,0.0105],[50.4,0.0135],[51.6,0.0115],[52.2,0.016],[53.2,0.013],[54.0,0.0175],[55.0,0.015],[56.0,0.0205],[57.0,0.017],[58.0,0.0225],[59.0,0.019],[60.2,0.026],[61.8,0.022],[62.6,0.029],[64.2,0.025],[65.6,0.035],[66.2,0.031],[67.6,0.04],[69.2,0.037],[70.0,0.046],[71.0,0.051],[72.6,0.047],[73.2,0.058],[74.8,0.06],[76.2,0.065],[77.8,0.07],[79.4,0.075],[80.8,0.079],[82.4,0.083],[84.2,0.086],[85.6,0.089],[88.4,0.092],[90.2,0.0905],
[38.0,0.0012],[40.0,0.0025],[42.6,0.0035],[44.6,0.0045],[46.4,0.0068],[48.8,0.0085],[50.8,0.0105],[52.4,0.0118],[54.4,0.0138],[56.4,0.0172],[58.6,0.0188],[60.6,0.0228],[62.0,0.0245],[63.8,0.0278],[65.4,0.0305],[67.2,0.035],[68.6,0.0395],[70.4,0.0435],[72.2,0.0495],[73.8,0.053],[75.4,0.057],[77.0,0.0615],[78.4,0.0665],[80.4,0.071],[81.8,0.074],[83.6,0.078],[85.2,0.082],[87.0,0.0855],[88.8,0.087]];
const WELCH_MAINT_GOLD = [[88.1,0.1007],[91.3,0.0953],[81.5,0.086],[82.0,0.0806],[81.1,0.0752],[84.8,0.0842],[83.9,0.077],[86.3,0.0788],[86.7,0.0842],[86.3,0.0662],[79.2,0.0716],[80.1,0.0698],[82.0,0.0617],[78.7,0.0554],[80.1,0.0545],[81.5,0.0527],[83.0,0.05],[84.8,0.0482],[86.3,0.05],[87.7,0.0518],[83.9,0.0446],[81.1,0.0428],[79.7,0.0392],[82.0,0.0383],[85.8,0.0491],[75.4,0.0338],[76.8,0.0284],[73.5,0.0266],[71.6,0.0239],[69.7,0.023],[66.4,0.0149],[67.9,0.0356],[74.5,0.0374],[78.2,0.0446],
[80.6,0.058],[82.6,0.052],[84.2,0.055],[85.0,0.06],[87.0,0.053],[88.4,0.05],[83.2,0.069],[85.4,0.075],[87.2,0.083],[89.0,0.091],[90.2,0.088]];

const WHITES_MAINT_TEAL = [[36.5,0.0014],[37.9,0.0018],[39.3,0.0023],[40.7,0.0032],[42.1,0.0036],[43.5,0.0047],[45.0,0.0054],[46.4,0.0065],[47.8,0.0077],[49.2,0.0086],[50.6,0.0101],[52.0,0.0113],[53.4,0.0131],[54.9,0.0149],[56.3,0.0167],[57.7,0.0191],[59.1,0.0212],[61.0,0.0239],[62.9,0.0266],[64.8,0.0302],[66.6,0.0338],[68.5,0.0374],[70.4,0.0428],[72.3,0.0482],[74.2,0.0536],[76.1,0.0599],[78.0,0.0662],[79.8,0.0716],[81.7,0.077],[83.6,0.0797],[85.5,0.0815],
[55.5,0.0683],[62.4,0.0396],[65.5,0.0437],[56.7,0.0299],[58.1,0.0299],[41.6,0.0144],[46.8,0.014],[91.4,0.1058],
[82.7,0.0554],[83.6,0.05],[80.8,0.0518],[78.0,0.0446],[76.1,0.0356],[74.2,0.0302],[71.4,0.0266],[68.5,0.0194],[65.7,0.0248],[62.9,0.0158],[60.0,0.014],[57.2,0.0113],[53.4,0.0086],[50.6,0.0068],[47.8,0.005],[83.6,0.0464],[80.8,0.0392],[78.0,0.0374],
[79.8,0.0788],[81.7,0.0734],[85.0,0.0788],[72.3,0.0626],[76.1,0.068],
[38.5,0.001],[41.0,0.0015],[44.0,0.003],[48.5,0.006],[51.5,0.0085],[55.5,0.012],[59.5,0.017],[63.5,0.021],[67.5,0.028],[70.0,0.033],[73.0,0.04],[75.0,0.046],[77.0,0.05]];
const WHITES_MAINT_TEAL_MORE = [[37.2,0.001],[38.6,0.0028],[40.0,0.0018],[41.4,0.0042],[42.8,0.003],[44.2,0.006],[45.6,0.0045],[47.0,0.0085],[48.4,0.0065],[49.8,0.0105],[51.2,0.0085],[52.6,0.013],[54.0,0.0105],[55.6,0.016],[57.0,0.0135],[58.4,0.0205],[59.8,0.017],[61.6,0.0255],[63.2,0.021],[64.2,0.029],[65.8,0.026],[67.2,0.036],[68.8,0.031],[69.8,0.041],[71.2,0.038],[72.8,0.05],[73.6,0.045],[75.2,0.057],[76.8,0.052],[77.6,0.064],[79.2,0.06],[80.6,0.074],[82.2,0.068],[84.2,0.075],[86.4,0.072],[88.0,0.078],
[39.8,0.0035],[42.4,0.005],[44.8,0.0072],[46.8,0.0098],[49.4,0.0118],[51.8,0.0142],[54.2,0.017],[56.4,0.0195],[58.8,0.0235],[60.6,0.028],[62.4,0.0315],[64.4,0.036],[66.2,0.039],[68.0,0.0445],[69.4,0.0475],[71.8,0.0545],[74.4,0.062],[76.4,0.066],[78.6,0.07],[80.2,0.064],[82.8,0.072],[84.8,0.068],[72.4,0.035],[76.8,0.043],[80.0,0.048],[66.8,0.022],[63.0,0.018]];
const WHITES_MAINT_GOLD = [[91.4,0.0968],[85.3,0.0914],[87.2,0.0887],[89.3,0.0748],[95.2,0.0662],[87.0,0.0658],[86.5,0.0554],[87.9,0.0545],[89.3,0.0563],[90.2,0.0576],[86.0,0.0509],[87.4,0.05],[83.6,0.068],[84.1,0.0725],[82.2,0.0446],[79.8,0.041],[76.1,0.0446],[70.4,0.0374],[83.6,0.077],
[84.6,0.062],[86.2,0.06],[88.6,0.052],[90.8,0.061],[88.2,0.07],[80.6,0.057],[78.6,0.05]];

const CAMPBELL_MAINT_TEAL = [[35.4,0.0013],[36.8,0.0013],[38.3,0.0018],[39.8,0.0027],[41.2,0.0037],[43.2,0.0049],[44.6,0.0064],[46.1,0.0079],[48.0,0.0092],[50.0,0.011],[51.9,0.0128],[53.9,0.0147],[55.8,0.017],[57.8,0.0192],[59.7,0.0225],[61.6,0.0256],[63.6,0.0284],[65.5,0.0321],[67.5,0.0357],[69.4,0.0394],[71.4,0.0434],[73.3,0.0485],[75.3,0.054],[77.2,0.0595],[79.2,0.0659],[81.1,0.0723],[82.6,0.0788],[83.5,0.0852],[84.0,0.0925],[85.0,0.0998],[86.5,0.1016],[89.4,0.1053],[91.8,0.1016],
[56.6,0.0868],[96.2,0.1456],[96.2,0.1311],[85.2,0.113],[84.0,0.0994],[82.1,0.0857],[77.7,0.0733],[74.3,0.065],[70.4,0.0559],[64.6,0.0495],[95.7,0.0948],[93.8,0.0884],[91.8,0.0852],[96.2,0.098],[74.3,0.0247],[68.5,0.0266],[63.6,0.0394],[52.9,0.0082],[54.8,0.0119],[58.2,0.0156],
[37.5,0.002],[42.0,0.003],[47.0,0.006],[49.0,0.012],[55.0,0.013],[60.5,0.019],[62.5,0.0235],[66.5,0.028],[70.0,0.034],[72.5,0.038],[76.0,0.045],[78.5,0.052],[80.5,0.058],[87.5,0.083],[89.5,0.09]];
const CAMPBELL_MAINT_TEAL_MORE = [[36.0,0.0008],[37.2,0.0022],[38.8,0.0012],[40.4,0.0035],[42.2,0.0028],[43.8,0.0062],[45.2,0.005],[47.2,0.0095],[49.2,0.0085],[50.8,0.013],[52.8,0.0115],[54.6,0.0175],[56.6,0.0155],[58.6,0.021],[60.6,0.0195],[62.4,0.0275],[64.4,0.025],[66.4,0.0345],[68.2,0.0315],[70.2,0.042],[72.2,0.0395],[74.0,0.052],[76.2,0.049],[78.0,0.063],[80.0,0.06],[81.8,0.075],[83.0,0.071],[84.6,0.088],[86.0,0.085],[87.4,0.095],[88.6,0.092],[90.6,0.1],[92.6,0.097],[94.0,0.093],
[39.0,0.002],[41.8,0.0045],[44.2,0.0075],[46.6,0.0108],[48.6,0.0125],[50.4,0.0155],[52.2,0.0172],[54.0,0.0205],[56.0,0.0215],[58.0,0.0255],[59.8,0.029],[61.8,0.032],[63.4,0.0355],[65.0,0.037],[67.0,0.041],[69.0,0.0455],[71.0,0.05],[72.8,0.0555],[74.6,0.0585],[76.6,0.0645],[78.6,0.07],[80.6,0.0775],[82.2,0.082],[83.8,0.0805],[85.6,0.0905],[87.0,0.0975],[88.8,0.0985],[90.2,0.093],[93.2,0.0905],[95.0,0.1005],[74.0,0.038],[77.0,0.042],[80.4,0.05],[83.4,0.056]];
const CAMPBELL_MAINT_GOLD = [[89.4,0.1306],[94.2,0.1035],[77.2,0.0833],[80.1,0.0778],[82.1,0.072],[84.0,0.0668],[86.0,0.072],[87.9,0.0778],[90.8,0.075],[92.8,0.0797],[94.7,0.0815],[91.8,0.0888],[89.9,0.0934],[90.2,0.0495],[83.2,0.017],[83.2,0.0311],[82.6,0.0403],[78.2,0.0394],[76.2,0.0339],[74.3,0.0302],[72.3,0.0266],[70.4,0.0229],[66.5,0.0192],[62.6,0.0147],[59.7,0.0128],[80.1,0.0485],[82.1,0.0559],[84.5,0.0522],[86.9,0.0559],[78.2,0.0559],[75.3,0.0449],[82.1,0.0632],[86.0,0.0632],[88.9,0.065],[91.8,0.0687],[93.8,0.0723],
[85.0,0.06],[87.2,0.065],[89.0,0.072],[90.0,0.058],[92.2,0.075],[94.4,0.085],[95.6,0.092],[81.2,0.045],[79.2,0.035],[77.0,0.031],[84.8,0.042],[88.4,0.082]];

const FRANZ_MAINT_TEAL = [[32.9,0.0018],[37.3,0.0018],[39.2,0.0027],[40.2,0.0037],[41.2,0.0013],[44.1,0.0024],[51.9,0.0092],[54.8,0.0104],[57.7,0.0119],[59.6,0.0137],[62.6,0.0147],[70.3,0.0247],[72.3,0.0293],[73.3,0.0229],[75.7,0.0302],[78.1,0.0366],[79.6,0.0357],[81.1,0.0321],[83.5,0.0366],[84.5,0.0361],[88.4,0.0385]];
const FRANZ_MAINT_GOLD = [[90.3,0.0463],[74.7,0.0152],[76.7,0.0152],[78.6,0.0375],[79.1,0.0361],[80.6,0.0339],[82.5,0.0366],[76.2,0.0321],[70.3,0.0247],[62.6,0.0147],[60.6,0.0137]];

// ---------- trend lines: value at X_MIN and at X_MAX, per site ----------
const ENERGY_TREND_TEAL = [[0.117, -0.0085], [0.0582, 0.030], [0.0537, 0.0367], [0.0648, 0.0479], [0.0265, 0.0293]];
const ENERGY_TREND_GOLD = [null, [0.0285, 0.0514], [0.0593, 0.0458], [0.0423, 0.0304], [0.022, 0.0152]];
const INST_TREND_TEAL = [[0.0231, 0.0191], [0.0168, 0.0099], [0.0177, 0.0088], [0.0182, 0.009], [0.0067, 0.0059]];
const INST_TREND_GOLD = [null, [0.0099, 0.0121], [0.0067, 0.0125], [0.0074, 0.0081], [0.0047, 0.0036]];
const MAINT_TREND_TEAL = [[-0.0046, 0.0318], [-0.0163, 0.0788], [-0.0195, 0.0797], [-0.0305, 0.1061], [-0.0078, 0.0459]];
const MAINT_TREND_GOLD = [null, [-0.0294, 0.0914], [-0.0344, 0.0953], [-0.0565, 0.0978], [-0.0262, 0.0561]];

const PANEL_TEAL = [
  [ILWACO_ENERGY_TEAL, WELCH_ENERGY_TEAL.concat(WELCH_ENERGY_TEAL_MORE), WHITES_ENERGY_TEAL.concat(WHITES_ENERGY_TEAL_MORE), CAMPBELL_ENERGY_TEAL.concat(CAMPBELL_ENERGY_TEAL_MORE), FRANZ_ENERGY_TEAL],
  [ILWACO_INST_TEAL, WELCH_INST_TEAL.concat(WELCH_INST_TEAL_MORE), WHITES_INST_TEAL.concat(WHITES_INST_TEAL_MORE), CAMPBELL_INST_TEAL.concat(CAMPBELL_INST_TEAL_MORE), FRANZ_INST_TEAL],
  [ILWACO_MAINT_TEAL, WELCH_MAINT_TEAL.concat(WELCH_MAINT_TEAL_MORE), WHITES_MAINT_TEAL.concat(WHITES_MAINT_TEAL_MORE), CAMPBELL_MAINT_TEAL.concat(CAMPBELL_MAINT_TEAL_MORE), FRANZ_MAINT_TEAL],
];
const PANEL_GOLD = [
  [null, WELCH_ENERGY_GOLD, WHITES_ENERGY_GOLD, CAMPBELL_ENERGY_GOLD, FRANZ_ENERGY_GOLD],
  [null, WELCH_INST_GOLD, WHITES_INST_GOLD, CAMPBELL_INST_GOLD, FRANZ_INST_GOLD],
  [null, WELCH_MAINT_GOLD, WHITES_MAINT_GOLD, CAMPBELL_MAINT_GOLD, FRANZ_MAINT_GOLD],
];
const TREND_TEAL = [ENERGY_TREND_TEAL, INST_TREND_TEAL, MAINT_TREND_TEAL];
const TREND_GOLD = [ENERGY_TREND_GOLD, INST_TREND_GOLD, MAINT_TREND_GOLD];

// ---------- layout & styles ----------
const W = 1754;
const H = 1077;
const COL_LEFT = [160, 479, 797, 1115, 1433];
const COL_RIGHT = [479, 797, 1115, 1433, 1752];
const ROW_TOP = [68, 367, 667];
const ROW_BOTTOM = [367, 667, 967];
const ROW_TITLE_Y = [216, 515, 813];
const FONT = '"Open Sans", "Noto Sans", sans-serif';
const BORDER = "#d2d2d2";
const GRID_LINE = "#efefef";
const TICK_COLOR = "#8a8a8a";
const TEAL_FILL = "rgba(118,180,176,0.6)";
const TEAL_EDGE = "rgba(55,82,80,0.85)";
const GOLD_FILL = "rgba(214,190,92,0.62)";
const GOLD_EDGE = "rgba(112,98,48,0.85)";
const TEAL_LINE = "#63aca6";
const GOLD_LINE = "#ccb02c";
const SYMBOL_SIZE = 11;

function near(list: number[], v: number) {
  return list.findIndex((t) => Math.abs(t - v) < 1e-9);
}

function buildOption() {
  const grid: any[] = [];
  const xAxis: any[] = [];
  const yAxis: any[] = [];
  const series: any[] = [];

  MEASURES.forEach((_, r) => {
    SITES.forEach((__, c) => {
      const idx = r * SITES.length + c;
      grid.push({
        left: COL_LEFT[c] + 1,
        top: ROW_TOP[r] + 1,
        width: COL_RIGHT[c] - COL_LEFT[c] - 1,
        height: ROW_BOTTOM[r] - ROW_TOP[r] - 1,
        containLabel: false,
        outerBoundsMode: "none",
      });
      xAxis.push({
        type: "value",
        gridIndex: idx,
        min: X_MIN,
        max: X_MAX,
        minInterval: X_STEP,
        maxInterval: X_STEP,
        axisLine: { show: false },
        axisTick: { show: false },
        splitLine: { show: true, lineStyle: { color: GRID_LINE, width: 1 } },
        axisLabel: {
          show: r === MEASURES.length - 1,
          margin: 17,
          fontSize: 25,
          fontFamily: FONT,
          color: TICK_COLOR,
          formatter: (v: number) => {
            const i = near(X_TICKS, v);
            if (i < 0) return "";
            return i === X_TICKS.length - 1 ? `{r|${X_TICK_LABELS[i]}}` : X_TICK_LABELS[i];
          },
          rich: { r: { fontSize: 25, fontFamily: FONT, color: TICK_COLOR, padding: [0, 54, 0, 0] } },
        },
      });
      yAxis.push({
        type: "value",
        gridIndex: idx,
        min: Y_MIN[r],
        max: Y_MAX[r],
        minInterval: Y_STEP[r],
        maxInterval: Y_STEP[r],
        axisLine: { show: false },
        axisTick: { show: false },
        splitLine: { show: true, lineStyle: { color: GRID_LINE, width: 1 } },
        axisLabel: {
          show: c === 0,
          margin: 13,
          fontSize: 26,
          fontFamily: FONT,
          color: TICK_COLOR,
          formatter: (v: number) => {
            const i = near(Y_TICKS[r], v);
            if (i < 0) return "";
            const txt = Y_TICK_LABELS[r][i];
            return r === 2 && i === Y_TICKS[r].length - 1 ? `{t|${txt}}` : txt;
          },
          rich: { t: { fontSize: 26, fontFamily: FONT, color: TICK_COLOR, padding: [22, 0, 0, 0] } },
        },
      });

      const teal = PANEL_TEAL[r][c];
      const gold = PANEL_GOLD[r][c];
      series.push({
        type: "scatter",
        xAxisIndex: idx,
        yAxisIndex: idx,
        data: teal,
        symbol: "circle",
        symbolSize: SYMBOL_SIZE,
        silent: true,
        z: 2,
        itemStyle: { color: TEAL_FILL, borderColor: TEAL_EDGE, borderWidth: 1.1 },
        markLine: {
          silent: true,
          symbol: ["none", "none"],
          label: { show: false },
          lineStyle: { type: [2, 3], color: "#b4b4b4", width: 1.3 },
          data: [{ yAxis: 0 }],
          z: 1,
        },
      });
      if (gold) {
        series.push({
          type: "scatter",
          xAxisIndex: idx,
          yAxisIndex: idx,
          data: gold,
          symbol: "circle",
          symbolSize: SYMBOL_SIZE,
          silent: true,
          z: 3,
          itemStyle: { color: GOLD_FILL, borderColor: GOLD_EDGE, borderWidth: 1.1 },
        });
      }
      const tt = TREND_TEAL[r][c];
      if (tt) {
        series.push({
          type: "line",
          xAxisIndex: idx,
          yAxisIndex: idx,
          data: [[X_MIN, tt[0]], [X_MAX, tt[1]]],
          symbol: "none",
          silent: true,
          clip: true,
          z: 6,
          lineStyle: { color: TEAL_LINE, width: 2.2 },
        });
      }
      const tg = TREND_GOLD[r][c];
      if (tg) {
        series.push({
          type: "line",
          xAxisIndex: idx,
          yAxisIndex: idx,
          data: [[X_MIN, tg[0]], [X_MAX, tg[1]]],
          symbol: "none",
          silent: true,
          clip: true,
          z: 7,
          lineStyle: { color: GOLD_LINE, width: 2.2 },
        });
      }
    });
  });

  const graphic: any[] = [];
  const hLine = (y: number, x1: number, x2: number) =>
    graphic.push({ type: "line", silent: true, z: 100, shape: { x1, y1: y + 0.5, x2, y2: y + 0.5 }, style: { stroke: BORDER, lineWidth: 1 } });
  const vLine = (x: number, y1: number, y2: number) =>
    graphic.push({ type: "line", silent: true, z: 100, shape: { x1: x + 0.5, y1, x2: x + 0.5, y2 }, style: { stroke: BORDER, lineWidth: 1 } });

  [ROW_TOP[0], ...ROW_BOTTOM].forEach((y) => hLine(y, 9, W));
  vLine(COL_LEFT[0], 7, H);
  COL_LEFT.slice(1).forEach((x) => vLine(x, 38, H));
  vLine(COL_RIGHT[COL_RIGHT.length - 1], 0, H);
  graphic.push({ type: "line", silent: true, z: 100, shape: { x1: 0, y1: 250.5, x2: 3, y2: 250.5 }, style: { stroke: "#111", lineWidth: 2 } });

  graphic.push({
    type: "text", silent: true, z: 100, x: (COL_LEFT[0] + COL_RIGHT[4]) / 2, y: 21,
    style: { text: FACET_HEADER, fontSize: 24, fontWeight: "bold", fontFamily: FONT, fill: "#333", align: "center", verticalAlign: "middle" },
  });
  SITES.forEach((s, c) => {
    const cx = (COL_LEFT[c] + COL_RIGHT[c]) / 2;
    graphic.push({
      type: "text", silent: true, z: 100, x: cx, y: 56,
      style: { text: s, fontSize: 27, fontWeight: 300, fontFamily: FONT, fill: "#858585", align: "center", verticalAlign: "middle" },
    });
    graphic.push({
      type: "text", silent: true, z: 100, x: cx, y: 1046,
      style: { text: X_TITLE, fontSize: 27, fontWeight: 600, fontFamily: FONT, fill: "#333", align: "center", verticalAlign: "middle" },
    });
  });
  MEASURES.forEach((m, r) => {
    graphic.push({
      type: "text", silent: true, z: 100, x: 43, y: ROW_TITLE_Y[r], rotation: Math.PI / 2,
      style: { text: m, fontSize: 27, fontWeight: 500, fontFamily: FONT, fill: "#3a3a3a", align: "center", verticalAlign: "middle" },
    });
  });

  return {
    animation: false,
    backgroundColor: "#ffffff",
    grid,
    xAxis,
    yAxis,
    series,
    graphic,
  };
}

export default function App() {
  const ref = useRef<HTMLDivElement>(null);
  useEffect(() => {
    if (!ref.current) return;
    const chart = echarts.init(ref.current, null, { renderer: "svg" });
    chart.setOption(buildOption());
    return () => chart.dispose();
  }, []);
  return (
    <div
      ref={ref}
      style={{ position: "absolute", left: 0, top: 0, width: W, height: H, background: "#fff" }}
    />
  );
}
